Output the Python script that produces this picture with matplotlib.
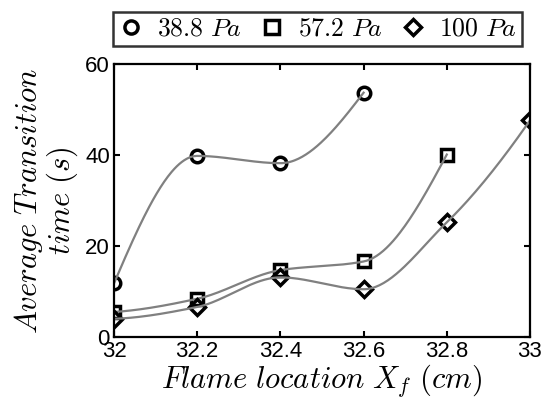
import matplotlib.pyplot as plt
import numpy as np

plt.rcParams['mathtext.fontset'] = 'cm'
plt.rcParams['font.family'] = ['Liberation Sans', 'DejaVu Sans']

x_38 = [32.0, 32.2, 32.4, 32.6]
y_38 = [11.8, 39.8, 38.2, 53.7]
x_57 = [32.0, 32.2, 32.4, 32.6, 32.8]
y_57 = [5.5, 8.4, 14.7, 16.6, 40.1]
x_100 = [32.0, 32.2, 32.4, 32.6, 32.8, 33.0]
y_100 = [4.0, 6.6, 13.1, 10.5, 25.2, 47.6]

labels = ['$\\mathrm{38.8}\\ Pa$', '$\\mathrm{57.2}\\ Pa$', '$\\mathrm{100}\\ Pa$']
markers = ['o', 's', 'D']
xticks = [32, 32.2, 32.4, 32.6, 32.8, 33]
xticklabels = ['32', '32.2', '32.4', '32.6', '32.8', '33']
yticks = [0, 20, 40, 60]


def pchip_curve(x, y, n=200):
    # shape preserving cubic (like matlab pchip)
    x = np.asarray(x, float)
    y = np.asarray(y, float)
    h = np.diff(x)
    d = np.diff(y) / h
    k = len(x)
    s = np.zeros(k)
    for i in range(1, k - 1):
        if d[i - 1] * d[i] > 0:
            w1 = 2 * h[i] + h[i - 1]
            w2 = h[i] + 2 * h[i - 1]
            s[i] = (w1 + w2) / (w1 / d[i - 1] + w2 / d[i])
    for j, (a, b, ha, hb) in enumerate([(d[0], d[1], h[0], h[1]), (d[-1], d[-2], h[-1], h[-2])]):
        e = ((2 * ha + hb) * a - ha * b) / (ha + hb)
        if np.sign(e) != np.sign(a):
            e = 0.0
        elif np.sign(a) != np.sign(b) and abs(e) > abs(3 * a):
            e = 3 * a
        s[0 if j == 0 else -1] = e
    xs = np.linspace(x[0], x[-1], n)
    idx = np.clip(np.searchsorted(x, xs) - 1, 0, k - 2)
    t = (xs - x[idx]) / h[idx]
    h00 = 2 * t ** 3 - 3 * t ** 2 + 1
    h10 = t ** 3 - 2 * t ** 2 + t
    h01 = -2 * t ** 3 + 3 * t ** 2
    h11 = t ** 3 - t ** 2
    ys = h00 * y[idx] + h10 * h[idx] * s[idx] + h01 * y[idx + 1] + h11 * h[idx] * s[idx + 1]
    return xs, ys


fig = plt.figure(figsize=(5.43, 4), dpi=100)
ax = fig.add_axes([0.21, 0.1575, 0.766, 0.6825])

handles = []
for xv, yv, m, lab in zip([x_38, x_57, x_100], [y_38, y_57, y_100], markers, labels):
    ms = 8 if m == 'D' else 9
    h, = ax.plot(xv, yv, linestyle='none', marker=m, markersize=ms, markerfacecolor='none',
                 markeredgecolor='k', markeredgewidth=2.5, label=lab)
    handles.append(h)
    xs, ys = pchip_curve(xv, yv)
    ax.plot(xs, ys, color='#808080', linewidth=1.6)

ax.set_xlim(32, 33)
ax.set_ylim(0, 60)
ax.set_xticks(xticks)
ax.set_xticklabels(xticklabels)
ax.set_yticks(yticks)
ax.tick_params(direction='in', top=True, right=True, length=4, width=1.5, labelsize=16, pad=3)
for s in ax.spines.values():
    s.set_linewidth(1.6)

ax.set_xlabel('$Flame\\ location\\ X_f\\ (cm)$', fontsize=22, labelpad=0)
ax.set_ylabel('$Average\\ Transition$\n$time\\ (s)$', fontsize=22, labelpad=4, linespacing=0.95)

leg = fig.legend(handles=handles, loc='center', bbox_to_anchor=(317.5 / 543, 1 - 29 / 400),
                 ncol=3, fontsize=18.5, frameon=True, fancybox=False, handletextpad=0.5,
                 columnspacing=0.7, borderpad=0.2, handlelength=1.0, borderaxespad=0,
                 markerscale=1.05)
leg.get_frame().set_edgecolor('k')
leg.get_frame().set_linewidth(1.8)

fig.savefig('out.png', dpi=100)
